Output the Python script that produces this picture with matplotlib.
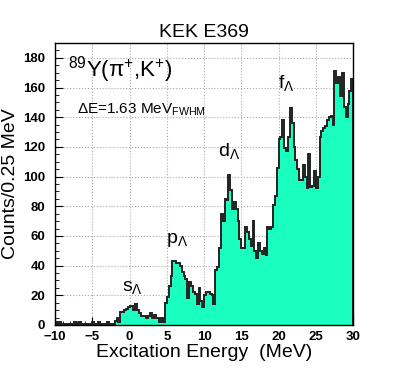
import numpy as np
import matplotlib
matplotlib.use('Agg')
import matplotlib.pyplot as plt
from matplotlib.ticker import MultipleLocator

plt.rcParams['font.family'] = ['Liberation Sans', 'DejaVu Sans']
plt.rcParams['mathtext.fontset'] = 'custom'
plt.rcParams['mathtext.rm'] = 'Liberation Sans'
plt.rcParams['mathtext.it'] = 'Liberation Sans:italic'
plt.rcParams['mathtext.bf'] = 'Liberation Sans:bold'

# histogram bin edges: -10 .. 30 MeV, 0.25 MeV per bin
bin_lo = -10.0
bin_hi = 30.0
bin_width = 0.25

# counts per bin (grouped by range)
counts_m10_m2 = [2, 1, 2, 1, 1, 1, 0, 1, 1, 1, 2, 1, 1, 2, 1, 1,
                 1, 0, 1, 1, 2, 1, 1, 2, 1, 1, 1, 1, 2, 1, 1, 1]
counts_m2_0 = [3, 5, 2, 9, 9, 10, 11, 12]
counts_0_5 = [13, 13, 10, 14, 10, 8, 6, 6, 6, 5, 6, 8, 5, 7, 5, 5, 2, 5, 2, 15]
counts_5_10 = [19, 26, 33, 43, 43, 42, 42, 40, 36, 33, 31, 18, 29, 26, 22, 21, 14, 25, 16, 12]
counts_10_15 = [20, 22, 22, 21, 20, 14, 37, 39, 52, 75, 70, 85, 84, 101, 91, 78, 83, 78, 70, 58]
counts_15_20 = [52, 52, 66, 63, 58, 53, 70, 50, 45, 55, 50, 48, 52, 47, 66, 65, 66, 81, 87, 106]
counts_20_25 = [125, 127, 138, 119, 117, 127, 146, 136, 120, 111, 105, 98, 98, 108, 100, 92, 115, 93, 94, 104]
counts_25_30 = [92, 100, 127, 131, 133, 134, 138, 140, 141, 135, 171, 163, 167, 154, 170, 147, 140, 149, 158, 166]

counts = np.array(counts_m10_m2 + counts_m2_0 + counts_0_5 + counts_5_10
                  + counts_10_15 + counts_15_20 + counts_20_25 + counts_25_30, dtype=float)
edges = np.arange(bin_lo, bin_hi + bin_width / 2, bin_width)

# peak labels (centre of the text)
peak_x = [0.45, 6.35, 13.3, 21.0]
peak_y = [25, 57, 117, 163]
peak_name = ['s', 'p', 'd', 'f']

fill_color = '#1affc0'

fig = plt.figure(figsize=(3.99, 3.71), dpi=100)
ax = fig.add_axes([0.138, 0.124, 0.747, 0.760])

ax.stairs(counts, edges, fill=True, color=fill_color, zorder=2)
ax.stairs(counts, edges, color='#222222', lw=1.4, zorder=3)

ax.set_xlim(bin_lo, bin_hi)
ax.set_ylim(0, 190)
ax.xaxis.set_major_locator(MultipleLocator(5))
ax.xaxis.set_minor_locator(MultipleLocator(1))
ax.yaxis.set_major_locator(MultipleLocator(20))
ax.yaxis.set_minor_locator(MultipleLocator(5))
ax.tick_params(which='both', direction='in', top=False, right=False,
               labelsize=9.5)
ax.tick_params(axis='y', pad=7)
ax.tick_params(axis='x', pad=4)
ax.tick_params(which='major', length=6, width=0.8)
ax.tick_params(which='minor', length=3, width=0.6)
for lab in ax.get_xticklabels() + ax.get_yticklabels():
    lab.set_fontweight('bold')
ax.grid(True, which='major', ls=':', color='#aaaaaa', lw=0.8, zorder=1)
ax.set_axisbelow(True)
for sp in ax.spines.values():
    sp.set_linewidth(1.0)
    sp.set_zorder(4)

ax.set_xlabel('Excitation Energy  (MeV)', fontsize=14, labelpad=1)
ax.set_ylabel('Counts/0.25 MeV', fontsize=14, labelpad=3)
ax.set_title('KEK E369', fontsize=14, pad=4)

ax.text(-8.3, 172, r'$^{\mathrm{89}}$Y(π$^{+}$,K$^{+}$)', fontsize=16, va='center')
ax.text(-7.0, 145, r'ΔE=1.63 MeV$_{\mathrm{FWHM}}$', fontsize=11, va='center')

for x, y, n in zip(peak_x, peak_y, peak_name):
    ax.text(x, y, n + r'$_{\mathrm{Λ}}$', fontsize=14, ha='center', va='center')

fig.savefig('out.png', dpi=100)
